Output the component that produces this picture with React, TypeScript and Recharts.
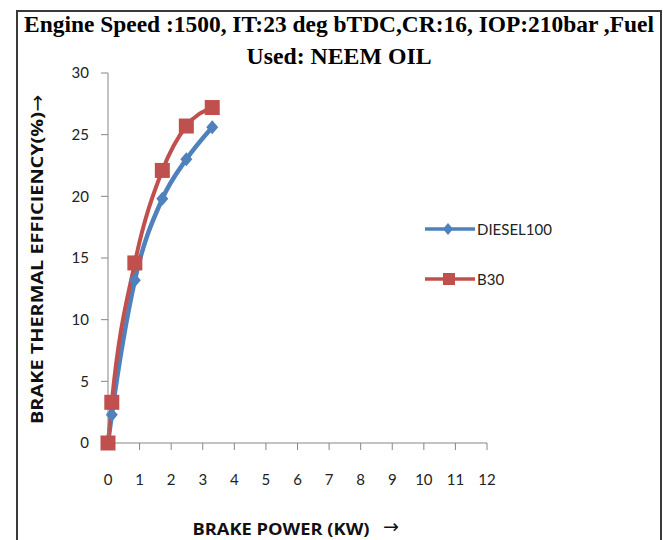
import { LineChart, Line, XAxis, YAxis, Legend } from "recharts";

// brake power (kW) for each load step
const power = [0, 0.12, 0.85, 1.72, 2.48, 3.3];
const diesel100 = [0, 2.3, 13.2, 19.8, 23.0, 25.6];
const b30 = [0, 3.3, 14.6, 22.1, 25.7, 27.2];

const xTicks = [0, 1, 2, 3, 4, 5, 6, 7, 8, 9, 10, 11, 12];
const yTicks = [0, 5, 10, 15, 20, 25, 30];

const BLUE = "#4F81BD";
const RED = "#C0504D";
const TICK_FONT = "Lato, 'Open Sans', sans-serif";
const ARROW_FONT = "'DejaVu Sans', sans-serif";

const data = power.map((p, i) => ({ power: p, diesel: diesel100[i], b30: b30[i] }));

const diamond = (props: any) => {
  const { cx, cy, index } = props;
  if (cx == null || cy == null) return <g key={`d${index}`} />;
  return (
    <path
      key={`d${index}`}
      d={`M${cx},${cy - 7}L${cx + 6},${cy}L${cx},${cy + 7}L${cx - 6},${cy}Z`}
      fill={BLUE}
    />
  );
};

const square = (props: any) => {
  const { cx, cy, index } = props;
  if (cx == null || cy == null) return <g key={`s${index}`} />;
  return <rect key={`s${index}`} x={cx - 7.5} y={cy - 7.5} width={15} height={15} fill={RED} />;
};

const renderLegend = () => (
  <svg width={200} height={80}>
    <line x1={5} y1={14} x2={55} y2={14} stroke={BLUE} strokeWidth={3.5} />
    <path d="M28,8L33,14L28,20L23,14Z" fill={BLUE} />
    <text x={57} y={19.5} fontSize={15} fontFamily={TICK_FONT} fill="#222">
      DIESEL100
    </text>
    <line x1={5} y1={64} x2={55} y2={64} stroke={RED} strokeWidth={3.5} />
    <rect x={23} y={58} width={12} height={12} fill={RED} />
    <text x={57} y={69.5} fontSize={15} fontFamily={TICK_FONT} fill="#222">
      B30
    </text>
  </svg>
);

const YLabel = () => (
  <g transform="rotate(-90 37 261)">
    <text
      x={30}
      y={261}
      textAnchor="middle"
      dominantBaseline="central"
      fontSize={16}
      fontWeight="bold"
      fontFamily="'Open Sans', sans-serif"
      textLength={312}
      lengthAdjust="spacingAndGlyphs"
      fill="#111"
    >
      BRAKE THERMAL  EFFICIENCY(%)
    </text>
    <text
      x={195}
      y={261}
      textAnchor="middle"
      dominantBaseline="central"
      fontSize={20}
      fontFamily={ARROW_FONT}
      fill="#111"
    >
      →
    </text>
  </g>
);

const XLabel = () => (
  <g>
    <text
      x={281}
      y={535}
      textAnchor="middle"
      fontSize={16}
      fontWeight="bold"
      fontFamily="'Open Sans', sans-serif"
      textLength={177}
      lengthAdjust="spacingAndGlyphs"
      fill="#111"
    >
      BRAKE POWER (KW)
    </text>
    <text x={391} y={533} textAnchor="middle" fontSize={19} fontFamily={ARROW_FONT} fill="#111">
      →
    </text>
  </g>
);

export default function App() {
  return (
    <div
      style={{
        position: "fixed",
        left: 0,
        top: 0,
        width: 663,
        height: 540,
        overflow: "hidden",
        background: "#fff",
      }}
    >
      <div
        style={{
          position: "absolute",
          left: 16,
          top: 10,
          width: 642,
          height: 560,
          border: "2px solid #3a3a3a",
          borderBottom: "none",
        }}
      />
      <svg style={{ position: "absolute", left: 0, top: 0 }} width={663} height={72}>
        <text
          x={339}
          y={32}
          textAnchor="middle"
          fontSize={23}
          fontWeight="bold"
          fontFamily="'Liberation Serif', 'Times New Roman', serif"
          textLength={630}
          lengthAdjust="spacingAndGlyphs"
          fill="#000"
        >
          Engine Speed :1500, IT:23 deg bTDC,CR:16, IOP:210bar ,Fuel
        </text>
        <text
          x={339}
          y={64}
          textAnchor="middle"
          fontSize={23}
          fontWeight="bold"
          fontFamily="'Liberation Serif', 'Times New Roman', serif"
          textLength={185}
          lengthAdjust="spacingAndGlyphs"
          fill="#000"
        >
          Used: NEEM OIL
        </text>
      </svg>
      <div style={{ position: "absolute", left: 0, top: 0 }}>
        <LineChart
          width={663}
          height={540}
          data={data}
          margin={{ top: 73, right: 176, bottom: 67, left: 48 }}
        >
          <XAxis
            dataKey="power"
            type="number"
            domain={[0, 12]}
            ticks={xTicks}
            interval={0}
            stroke="#868686"
            tickSize={7}
            tickMargin={24}
            height={30}
            tick={{ fill: "#222", fontSize: 15, fontFamily: TICK_FONT }}
            label={<XLabel />}
          />
          <YAxis
            type="number"
            domain={[0, 30]}
            ticks={yTicks}
            interval={0}
            stroke="#868686"
            tickSize={7}
            tickMargin={12}
            width={60}
            tick={{ fill: "#222", fontSize: 15, fontFamily: TICK_FONT }}
            label={<YLabel />}
          />
          <Legend
            layout="vertical"
            align="center"
            verticalAlign="middle"
            content={renderLegend}
            wrapperStyle={{ left: 420, top: 215, width: 200, height: 80 }}
          />
          <Line
            type="monotone"
            dataKey="diesel"
            name="DIESEL100"
            stroke={BLUE}
            strokeWidth={4.5}
            dot={diamond}
            activeDot={false}
            isAnimationActive={false}
          />
          <Line
            type="monotone"
            dataKey="b30"
            name="B30"
            stroke={RED}
            strokeWidth={4}
            dot={square}
            activeDot={false}
            isAnimationActive={false}
          />
        </LineChart>
      </div>
    </div>
  );
}
